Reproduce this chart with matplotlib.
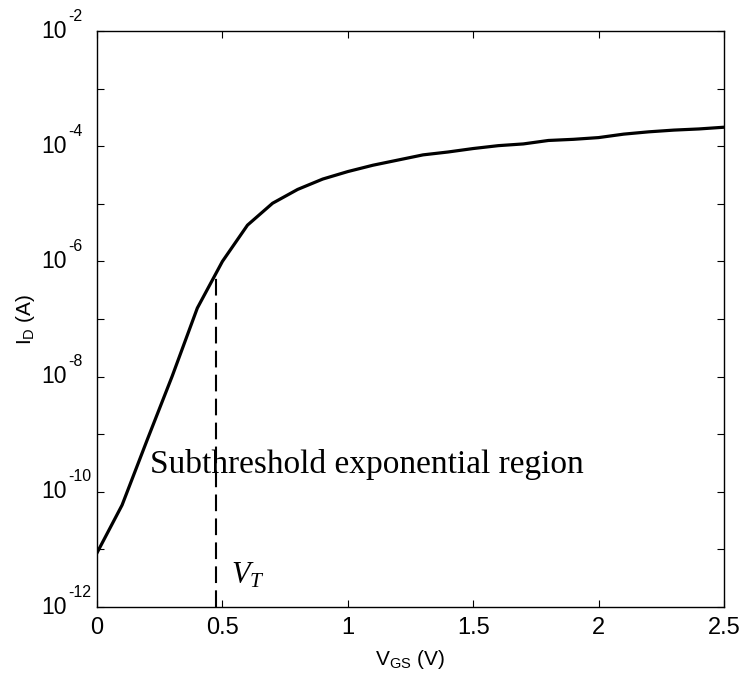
import matplotlib
matplotlib.use('Agg')
import matplotlib.pyplot as plt
import matplotlib.transforms as mtransforms
import numpy as np
from matplotlib.ticker import FixedLocator, NullFormatter

plt.rcParams['font.family'] = 'Liberation Sans'
plt.rcParams['mathtext.fontset'] = 'custom'
plt.rcParams['mathtext.rm'] = 'Liberation Sans'
plt.rcParams['mathtext.it'] = 'Liberation Serif:italic'

# gate voltage (V) and log10 of drain current (A)
vgs = [0.0, 0.1, 0.2, 0.3, 0.4, 0.5, 0.6, 0.7, 0.8, 0.9, 1.0, 1.1, 1.2, 1.3,
       1.4, 1.5, 1.6, 1.7, 1.8, 1.9, 2.0, 2.1, 2.2, 2.3, 2.4, 2.5]
log_id = [-11.06, -10.23, -9.10, -7.99, -6.81, -6.00, -5.37, -4.99, -4.75,
          -4.57, -4.44, -4.33, -4.24, -4.15, -4.10, -4.04, -3.99, -3.96,
          -3.90, -3.88, -3.85, -3.79, -3.75, -3.72, -3.70, -3.67]
vt = 0.473
vt_top = 5.4e-7

xticks = [0, 0.5, 1, 1.5, 2, 2.5]
xtick_labels = ['0', '0.5', '1', '1.5', '2', '2.5']
yexp = [-12, -10, -8, -6, -4, -2]

fig = plt.figure(figsize=(7.45, 6.79), dpi=100)
ax = fig.add_axes([0.1302, 0.106, 0.8416, 0.8483])

ax.plot(vgs, 10.0 ** np.array(log_id), color='black', lw=2.3)
ax.plot([vt, vt], [1e-12, vt_top], color='black', lw=1.5, dashes=(8, 3.5))

ax.set_yscale('log')
ax.set_xlim(0, 2.5)
ax.set_ylim(1e-12, 1e-2)
ax.set_xticks(xticks)
ax.set_xticklabels(xtick_labels)
ax.yaxis.set_major_locator(FixedLocator([10.0 ** e for e in yexp]))
ax.yaxis.set_major_formatter(NullFormatter())
ax.yaxis.set_minor_locator(FixedLocator([10.0 ** e for e in range(-11, -2, 2)]))
ax.yaxis.set_minor_formatter(NullFormatter())
ax.xaxis.set_minor_locator(FixedLocator([]))

ax.tick_params(which='both', direction='in', top=True, right=True,
               length=5, width=0.8)
ax.tick_params(axis='x', labelsize=17, pad=7)
for s in ax.spines.values():
    s.set_linewidth(1.0)

# y tick labels written as 10 with a raised exponent, like the original
ytrans = ax.get_yaxis_transform()
base_tr = mtransforms.offset_copy(ytrans, fig=fig, x=-30, y=0, units='dots')
exp_tr = mtransforms.offset_copy(ytrans, fig=fig, x=-29, y=15, units='dots')
for e in yexp:
    ax.text(0, 10.0 ** e, '10', transform=base_tr, fontsize=16.5,
            ha='right', va='center')
    ax.text(0, 10.0 ** e, '%d' % e, transform=exp_tr, fontsize=11.5,
            ha='left', va='center')

ax.set_xlabel(r'V$_{\mathrm{GS}}$ (V)', fontsize=15)
ax.set_ylabel(r'I$_{\mathrm{D}}$ (A)', fontsize=15)
ax.xaxis.set_label_coords(0.5, -0.072)
ax.yaxis.set_label_coords(-0.096, 0.5)

ax.text(0.211, 3.0e-10, 'Subthreshold exponential region',
        fontfamily='Liberation Serif', fontsize=24, va='center', ha='left')
ax.text(0.535, 3.5e-12, r'$V_T$', fontsize=22, va='center', ha='left')

fig.savefig('out.png', dpi=100)
